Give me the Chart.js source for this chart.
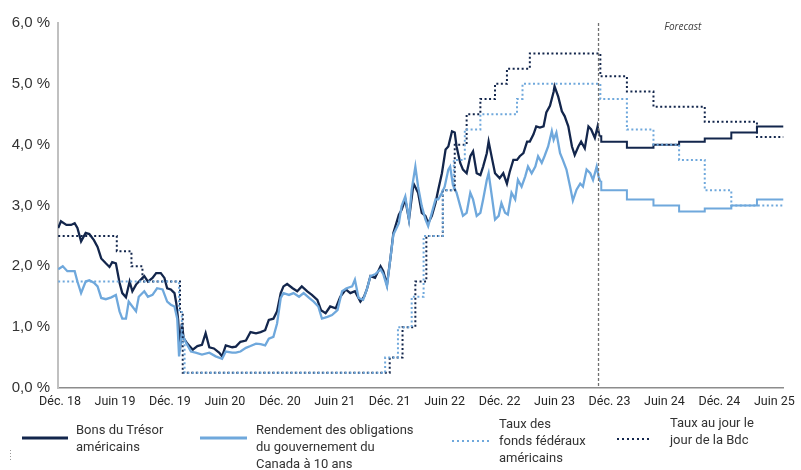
<!DOCTYPE html>
<html>
<head>
<meta charset="utf-8">
<script src="https://cdn.jsdelivr.net/npm/chart.js@4.4.0/dist/chart.umd.min.js"></script>
<style>
  html, body { margin: 0; padding: 0; background: #fff; }
  canvas { display: block; }
</style>
</head>
<body>
<canvas id="chart" width="801" height="470"></canvas>
<script>
// x values are months counted from Dec. 2018
const tickMonths = [0, 6, 12, 18, 24, 30, 36, 42, 48, 54, 60, 66, 72, 78];
const tickLabels = ["Déc. 18", "Juin 19", "Déc. 19", "Juin 20", "Déc. 20", "Juin 21", "Déc. 21",
  "Juin 22", "Déc. 22", "Juin 23", "Déc. 23", "Juin 24", "Déc. 24", "Juin 25"];

// Bons du Trésor américains (history)
const usMonths = [-0.2, 0.1, 0.7, 1.2, 1.6, 1.9, 2.3, 2.8, 3.2, 3.7,
  4.1, 4.5, 5.0, 5.4, 5.7, 6.1, 6.5, 6.8, 7.2, 7.6,
  7.9, 8.3, 8.8, 9.2, 9.6, 10.1, 10.5, 11.0, 11.4, 11.7,
  12.1, 12.5, 12.7, 12.9, 13.1, 13.3, 13.5, 13.9, 14.5, 15.0,
  15.5, 15.9, 16.3, 16.8, 17.4, 17.7, 18.1, 18.8, 19.2, 19.7,
  20.3, 20.8, 21.4, 21.9, 22.4, 22.8, 23.3, 23.7, 24.1, 24.4,
  24.8, 25.4, 25.9, 26.4, 27.0, 27.5, 28.1, 28.5, 29.0, 29.5,
  30.1, 30.6, 31.2, 31.7, 32.2, 32.8, 33.2, 33.5, 33.9, 34.4,
  35.0, 35.3, 35.7, 36.1, 36.4, 37.0, 37.3, 37.7, 38.1, 38.6,
  39.1, 39.5, 39.9, 40.2, 40.6, 41.0, 41.3, 41.7, 42.1, 42.4,
  42.8, 43.1, 43.3, 43.7, 44.0, 44.4, 44.8, 45.1, 45.5, 45.9,
  46.2, 46.6, 46.8, 47.2, 47.5, 48.0, 48.4, 48.8, 49.1, 49.5,
  49.9, 50.2, 50.6, 51.0, 51.3, 51.7, 52.0, 52.4, 52.8, 53.1,
  53.5, 53.9, 54.0, 54.4, 54.8, 55.1, 55.5, 55.9, 56.2, 56.6,
  56.9, 57.3, 57.7, 58.0, 58.4, 58.7, 58.9];
const usYield = [2.63, 2.74, 2.68, 2.68, 2.71, 2.63, 2.41, 2.55, 2.53, 2.43,
  2.32, 2.13, 2.05, 1.99, 2.07, 2.05, 1.73, 1.56, 1.49, 1.75,
  1.59, 1.70, 1.78, 1.84, 1.75, 1.81, 1.89, 1.89, 1.81, 1.64,
  1.62, 1.56, 1.39, 1.12, 0.63, 1.06, 0.82, 0.73, 0.63, 0.69,
  0.71, 0.90, 0.67, 0.65, 0.58, 0.52, 0.70, 0.67, 0.68, 0.76,
  0.78, 0.92, 0.90, 0.92, 0.95, 1.12, 1.14, 1.26, 1.56, 1.67,
  1.71, 1.64, 1.59, 1.67, 1.59, 1.53, 1.45, 1.28, 1.23, 1.34,
  1.31, 1.50, 1.62, 1.56, 1.59, 1.42, 1.50, 1.62, 1.84, 1.81,
  2.00, 1.92, 1.70, 2.16, 2.55, 2.85, 2.93, 3.10, 2.77, 3.36,
  3.21, 2.88, 2.83, 2.71, 2.83, 3.04, 3.26, 3.53, 3.92, 3.97,
  4.22, 4.20, 3.97, 3.70, 3.59, 3.53, 3.81, 3.89, 3.53, 3.50,
  3.64, 3.86, 4.05, 3.75, 3.53, 3.45, 3.53, 3.36, 3.55, 3.75,
  3.75, 3.81, 3.86, 4.05, 4.05, 4.17, 4.30, 4.28, 4.30, 4.53,
  4.64, 4.87, 4.96, 4.79, 4.55, 4.47, 4.30, 3.97, 3.83, 3.97,
  4.05, 3.94, 4.30, 4.25, 4.11, 4.30, 4.14];

// Rendement des obligations du gouvernement du Canada à 10 ans (history)
const cadMonths = [-0.2, 0.3, 0.8, 1.6, 1.9, 2.3, 2.8, 3.2, 3.7, 4.1,
  4.5, 5.0, 5.6, 6.1, 6.5, 6.8, 7.2, 7.5, 7.9, 8.3,
  8.6, 9.2, 9.6, 10.1, 10.6, 11.2, 11.7, 12.1, 12.5, 12.8,
  13.0, 13.3, 13.7, 14.3, 14.8, 15.5, 16.3, 17.0, 17.7, 18.1,
  18.8, 19.2, 19.7, 20.3, 20.8, 21.4, 21.9, 22.4, 22.8, 23.3,
  23.7, 24.1, 24.4, 25.0, 25.5, 26.1, 26.6, 27.2, 27.7, 28.2,
  28.6, 29.2, 29.7, 30.3, 30.8, 31.3, 31.9, 32.2, 32.6, 33.1,
  33.5, 33.9, 34.4, 35.0, 35.3, 35.7, 36.1, 36.4, 37.0, 37.3,
  37.7, 38.1, 38.4, 38.8, 39.1, 39.5, 39.9, 40.2, 40.6, 41.0,
  41.3, 41.7, 42.0, 42.4, 42.6, 42.9, 43.3, 43.7, 44.0, 44.4,
  44.8, 45.1, 45.5, 45.9, 46.2, 46.6, 46.8, 47.2, 47.5, 47.9,
  48.2, 48.6, 48.9, 49.3, 49.7, 50.0, 50.4, 50.8, 51.1, 51.5,
  51.9, 52.2, 52.6, 52.9, 53.3, 53.7, 53.9, 54.2, 54.6, 54.9,
  55.3, 55.7, 56.0, 56.4, 56.8, 57.1, 57.5, 57.9, 58.2, 58.6,
  58.8, 59.0];
const cadYield = [1.95, 2.00, 1.92, 1.92, 1.75, 1.56, 1.75, 1.77, 1.73, 1.67,
  1.48, 1.46, 1.49, 1.53, 1.26, 1.14, 1.14, 1.42, 1.34, 1.26,
  1.50, 1.59, 1.50, 1.53, 1.64, 1.62, 1.42, 1.37, 1.34, 1.14,
  0.52, 0.90, 0.76, 0.60, 0.58, 0.55, 0.58, 0.52, 0.48, 0.60,
  0.58, 0.58, 0.60, 0.66, 0.69, 0.73, 0.72, 0.70, 0.81, 0.84,
  1.06, 1.48, 1.56, 1.53, 1.56, 1.50, 1.56, 1.48, 1.42, 1.34,
  1.14, 1.17, 1.20, 1.28, 1.59, 1.64, 1.67, 1.78, 1.48, 1.45,
  1.62, 1.84, 1.87, 1.95, 1.87, 1.67, 2.16, 2.52, 2.71, 2.99,
  3.15, 2.77, 3.26, 3.64, 3.31, 2.99, 2.77, 2.66, 2.88, 3.10,
  3.10, 3.21, 3.31, 3.59, 3.64, 3.34, 3.21, 2.99, 2.83, 2.88,
  3.21, 3.10, 2.83, 2.88, 3.10, 3.42, 3.53, 3.10, 2.77, 2.83,
  3.04, 2.88, 2.85, 3.21, 3.10, 3.42, 3.31, 3.48, 3.64, 3.53,
  3.64, 3.81, 3.70, 3.81, 3.97, 4.22, 4.08, 4.20, 3.86, 3.75,
  3.59, 3.31, 3.08, 3.26, 3.36, 3.31, 3.59, 3.53, 3.42, 3.64,
  3.48, 3.39];

// forecast levels, each one starting at its month
const fcMonths = [59.1, 61.9, 64.8, 67.6, 70.4, 73.3, 76.1, 79.0];
const usForecast = [4.05, 3.95, 4.0, 4.05, 4.1, 4.2, 4.3, 4.3];
const cadForecast = [3.25, 3.1, 3.0, 2.9, 2.95, 3.0, 3.1, 3.1];

// policy rates: month where each level starts
const fedMonths = [-0.2, 13.0, 13.3, 13.6, 35.5, 36.9, 38.4, 39.7, 41.8, 43.0,
  44.2, 45.9, 49.9, 50.5, 59.0, 61.9, 64.8, 67.6, 70.4, 73.3, 79.0];
const fedRate = [1.75, 1.25, 0.75, 0.25, 0.5, 1.0, 1.5, 2.5, 3.25, 3.75,
  4.25, 4.5, 4.75, 5.0, 4.75, 4.25, 4.0, 3.75, 3.25, 3.0, 3.0];
const bocMonths = [-0.2, 6.2, 7.8, 9.0, 13.1, 13.4, 36.0, 37.4, 38.8, 40.0,
  41.8, 43.1, 44.4, 45.9, 47.5, 48.8, 51.3, 59.0, 61.9, 64.8, 70.4, 76.1, 79.0];
const bocRate = [2.5, 2.25, 2.0, 1.75, 1.25, 0.25, 0.5, 1.0, 1.75, 2.5,
  3.25, 4.0, 4.5, 4.75, 5.0, 5.25, 5.5, 5.125, 4.875, 4.625, 4.375, 4.125, 4.125];

const forecastStart = 58.8;
const forecastLabelMonth = 68;

const legendItems = [
  ["Bons du Trésor", "américains"],
  ["Rendement des obligations", "du gouvernement du", "Canada à 10 ans"],
  ["Taux des", "fonds fédéraux", "américains"],
  ["Taux au jour le", "jour de la Bdc"]
];

const NAVY = "#13264c";
const LIGHT = "#6fa8dc";

const pts = (ms, vs) => ms.map((m, i) => ({ x: m, y: vs[i] }));
const lastUs = { x: usMonths[usMonths.length - 1], y: usYield[usYield.length - 1] };
const lastCad = { x: cadMonths[cadMonths.length - 1], y: cadYield[cadYield.length - 1] };

const overlay = {
  id: "overlay",
  afterDatasetsDraw(chart) {
    const { ctx, chartArea, scales: { x } } = chart;
    const px = x.getPixelForValue(forecastStart);
    ctx.save();
    ctx.strokeStyle = "#707070";
    ctx.lineWidth = 1.3;
    ctx.setLineDash([3, 2]);
    ctx.beginPath();
    ctx.moveTo(px, chartArea.top);
    ctx.lineTo(px, chartArea.bottom);
    ctx.stroke();
    ctx.setLineDash([]);
    ctx.font = 'italic 10px "Open Sans"';
    ctx.fillStyle = "#404040";
    ctx.textAlign = "center";
    ctx.textBaseline = "middle";
    ctx.fillText("Forecast", x.getPixelForValue(forecastLabelMonth), chartArea.top + 4);
    ctx.restore();
  },
  afterDraw(chart) {
    const ctx = chart.ctx;
    const slots = [
      { color: NAVY, dash: [], x0: 22, x1: 68, ly: 438, tx: 76, ty: 431 },
      { color: LIGHT, dash: [], x0: 200, x1: 247, ly: 438, tx: 256, ty: 431 },
      { color: LIGHT, dash: [2, 3], x0: 452, x1: 490, ly: 441, tx: 499, ty: 425 },
      { color: NAVY, dash: [2, 3], x0: 617, x1: 650, ly: 439, tx: 670, ty: 424 }
    ];
    ctx.save();
    slots.forEach((s, i) => {
      ctx.strokeStyle = s.color;
      ctx.lineWidth = s.dash.length ? 2 : 3;
      ctx.setLineDash(s.dash);
      ctx.beginPath();
      ctx.moveTo(s.x0, s.ly);
      ctx.lineTo(s.x1, s.ly);
      ctx.stroke();
      ctx.setLineDash([]);
      ctx.font = '13px Roboto';
      ctx.fillStyle = "#333";
      ctx.textAlign = "left";
      ctx.textBaseline = "middle";
      legendItems[i].forEach((t, j) => ctx.fillText(t, s.tx, s.ty + j * 17));
    });
    // stray mark at lower left of the original
    ctx.strokeStyle = "#999";
    ctx.lineWidth = 1;
    ctx.setLineDash([1, 2]);
    ctx.beginPath();
    ctx.moveTo(10.5, 450);
    ctx.lineTo(10.5, 460);
    ctx.stroke();
    ctx.restore();
  }
};

new Chart(document.getElementById("chart"), {
  type: "line",
  data: {
    datasets: [
      { data: pts(fedMonths, fedRate), borderColor: LIGHT, borderWidth: 2, borderDash: [2, 2.5], stepped: true, order: 0 },
      { data: pts(bocMonths, bocRate), borderColor: NAVY, borderWidth: 2, borderDash: [2, 2.5], stepped: true, order: 1 },
      { data: pts(cadMonths, cadYield), borderColor: LIGHT, borderWidth: 2.3, order: 2 },
      { data: [lastCad].concat(pts(fcMonths, cadForecast)), borderColor: LIGHT, borderWidth: 2, stepped: true, order: 2 },
      { data: pts(usMonths, usYield), borderColor: NAVY, borderWidth: 2.3, order: 3 },
      { data: [lastUs].concat(pts(fcMonths, usForecast)), borderColor: NAVY, borderWidth: 2, stepped: true, order: 3 }
    ]
  },
  options: {
    responsive: false,
    animation: false,
    devicePixelRatio: 1,
    layout: { padding: { top: 23, right: 16, left: 0, bottom: 0 } },
    elements: { point: { radius: 0 }, line: { tension: 0, fill: false } },
    plugins: { legend: { display: false }, tooltip: { enabled: false } },
    scales: {
      x: {
        type: "linear",
        min: -0.22,
        max: 79,
        afterBuildTicks: s => { s.ticks = tickMonths.map(v => ({ value: v })); },
        afterFit: s => { s.height = 82; },
        ticks: {
          autoSkip: false,
          maxRotation: 0,
          padding: 6,
          color: "#262626",
          font: { family: "Roboto", size: 12.5 },
          callback: v => tickLabels[tickMonths.indexOf(v)]
        },
        grid: { display: false, drawTicks: false },
        border: { display: true, color: "#8c8c8c", width: 1.5 }
      },
      y: {
        min: 0,
        max: 6,
        afterFit: s => { s.width = 58; },
        ticks: {
          stepSize: 1,
          padding: 8,
          color: "#333",
          font: { family: "Liberation Sans", size: 15 },
          callback: v => v.toFixed(1).replace(".", ",") + " %"
        },
        grid: { display: false, drawTicks: false },
        border: { display: true, color: "#c0c0c0", width: 2 }
      }
    }
  },
  plugins: [overlay]
});
</script>
</body>
</html>
